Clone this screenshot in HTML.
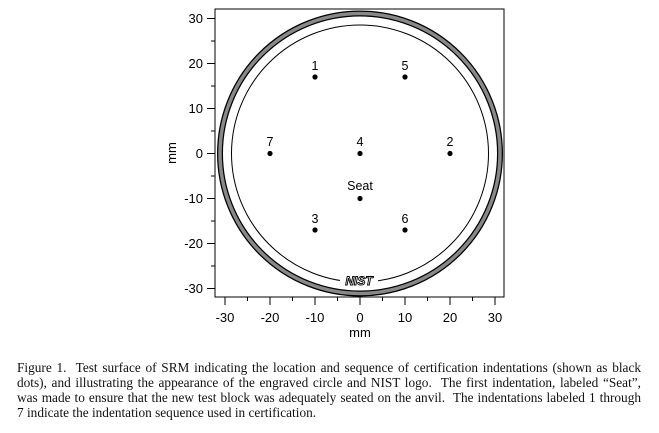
<!DOCTYPE html>
<html><head><style>
html,body{margin:0;padding:0;background:#fff;width:659px;height:433px;overflow:hidden}
svg{position:absolute;left:0;top:0}
.cap{position:absolute;left:17px;top:360px;width:624px;font-family:"Liberation Serif",serif;font-size:13.3px;line-height:15px;color:#111;white-space:nowrap}
.cap div{text-align:justify;text-align-last:justify}
.cap div.l{text-align-last:left}
</style></head><body>
<svg width="659" height="433" xmlns="http://www.w3.org/2000/svg" font-family="Liberation Sans, sans-serif" fill="#000">
<rect x="215" y="9" width="289" height="288" fill="none" stroke="#000" stroke-width="1"/>
<circle cx="360" cy="153.5" r="140" fill="none" stroke="#000" stroke-width="6"/>
<circle cx="360" cy="153.5" r="140" fill="none" stroke="#888" stroke-width="3.5"/>
<circle cx="360" cy="153.5" r="128.5" fill="none" stroke="#000" stroke-width="1"/>
<rect x="340" y="274" width="38" height="12" fill="#fff"/>
<text x="359" y="285" font-size="12" font-weight="bold" text-anchor="middle" fill="#fff" stroke="#000" stroke-width="0.9" font-style="italic">NIST</text>
<g stroke="#000" stroke-width="1">
<line x1="207" y1="18.5" x2="215" y2="18.5"/><line x1="207" y1="63.5" x2="215" y2="63.5"/>
<line x1="207" y1="108.5" x2="215" y2="108.5"/><line x1="207" y1="153.5" x2="215" y2="153.5"/>
<line x1="207" y1="198.5" x2="215" y2="198.5"/><line x1="207" y1="243.5" x2="215" y2="243.5"/>
<line x1="207" y1="288.5" x2="215" y2="288.5"/>
<line x1="211" y1="41" x2="215" y2="41"/><line x1="211" y1="86" x2="215" y2="86"/>
<line x1="211" y1="131" x2="215" y2="131"/><line x1="211" y1="176" x2="215" y2="176"/>
<line x1="211" y1="221" x2="215" y2="221"/><line x1="211" y1="266" x2="215" y2="266"/>
<line x1="225" y1="297" x2="225" y2="305"/><line x1="270" y1="297" x2="270" y2="305"/>
<line x1="315" y1="297" x2="315" y2="305"/><line x1="360" y1="297" x2="360" y2="305"/>
<line x1="405" y1="297" x2="405" y2="305"/><line x1="450" y1="297" x2="450" y2="305"/>
<line x1="495" y1="297" x2="495" y2="305"/>
<line x1="247.5" y1="297" x2="247.5" y2="301"/><line x1="292.5" y1="297" x2="292.5" y2="301"/>
<line x1="337.5" y1="297" x2="337.5" y2="301"/><line x1="382.5" y1="297" x2="382.5" y2="301"/>
<line x1="427.5" y1="297" x2="427.5" y2="301"/><line x1="472.5" y1="297" x2="472.5" y2="301"/>
</g>
<g font-size="13" text-anchor="end">
<text x="203" y="23">30</text><text x="203" y="68">20</text><text x="203" y="113">10</text>
<text x="203" y="158">0</text><text x="203" y="203">-10</text><text x="203" y="248">-20</text><text x="203" y="293">-30</text>
</g>
<g font-size="13" text-anchor="middle">
<text x="225" y="322">-30</text><text x="270" y="322">-20</text><text x="315" y="322">-10</text>
<text x="360" y="322">0</text><text x="405" y="322">10</text><text x="450" y="322">20</text><text x="495" y="322">30</text>
<text x="360" y="337">mm</text>
<text transform="translate(176,153) rotate(-90)">mm</text>
</g>
<g>
<circle cx="315" cy="77" r="2.6"/><circle cx="405" cy="77" r="2.6"/>
<circle cx="270" cy="153.5" r="2.6"/><circle cx="360" cy="153.5" r="2.6"/><circle cx="450" cy="153.5" r="2.6"/>
<circle cx="360" cy="198.5" r="2.6"/>
<circle cx="315" cy="230" r="2.6"/><circle cx="405" cy="230" r="2.6"/>
</g>
<g font-size="12.5" text-anchor="middle">
<text x="315" y="70">1</text><text x="405" y="70">5</text>
<text x="270" y="146">7</text><text x="360" y="146">4</text><text x="450" y="146">2</text>
<text x="360" y="190">Seat</text>
<text x="315" y="223">3</text><text x="405" y="223">6</text>
</g>
</svg>
<div class="cap">
<div>Figure 1.&nbsp; Test surface of SRM indicating the location and sequence of certification indentations (shown as black</div>
<div>dots), and illustrating the appearance of the engraved circle and NIST logo.&nbsp; The first indentation, labeled “Seat”,</div>
<div>was made to ensure that the new test block was adequately seated on the anvil.&nbsp; The indentations labeled 1 through</div>
<div class="l">7 indicate the indentation sequence used in certification.</div>
</div>
</body></html>
